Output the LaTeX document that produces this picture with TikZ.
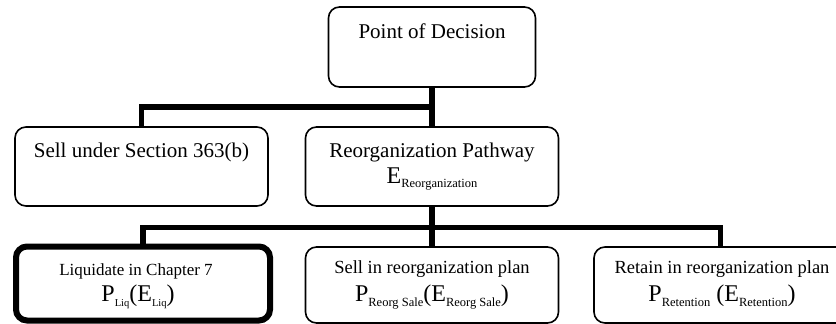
\documentclass[tikz,border=0pt]{standalone}
\usepackage{fontspec}
\setmainfont{Liberation Serif}
\newcommand\lsub[2][12.5]{\raisebox{-4.5pt}{\fontsize{#1}{#1}\selectfont #2}}
\begin{document}
\begin{tikzpicture}[x=1pt,y=-1pt,
  box/.style={draw, rounded corners=11pt, line width=1.6pt, inner sep=0pt, minimum width=253pt},
  thickbox/.style={box, line width=6pt},
  conn/.style={line width=5.5pt},
  txt/.style={inner sep=0pt, anchor=base, font=\fontsize{21}{21}\selectfont},
  lowtxt/.style={txt, font=\fontsize{18.5}{18.5}\selectfont},
  bigtxt/.style={txt, font=\fontsize{24}{24}\selectfont}]
\clip (0,0) rectangle (836,324);
% boxes
\node[box, minimum width=207pt, minimum height=80pt] (top) at (432,47) {};
\node[box, minimum height=79pt] (sell) at (141.5,166.5) {};
\node[box, minimum height=79pt] (reorg) at (432,166.5) {};
\node[thickbox, minimum width=254pt, minimum height=74pt] (liq) at (143,283.5) {};
\node[box, minimum height=76pt] (rsale) at (432,285) {};
\node[box, minimum height=76pt] (retain) at (720.5,285) {};
% connectors
\coordinate (j1) at (432,107);
\coordinate (j2) at (432,227.5);
\draw[conn] (top.south) -- (reorg.north);
\draw[conn] (sell.north) |- (j1);
\draw[conn] (reorg.south) -- (rsale.north);
\draw[conn] (liq.north) |- (j2);
\draw[conn] (retain.north) |- (j2);
% texts
\node[txt] (topT) at (432,38) {Point of Decision};
\node[txt] (sellT) at (141.5,157) {Sell under Section 363(b)};
\node[txt] (reorgT) at (432,157) {Reorganization Pathway};
\node[bigtxt] (reorgE) at (432,183) {E\lsub{Reorganization}};
\node[txt, font=\fontsize{17}{17}\selectfont] (liqT) at (136,275) {Liquidate in Chapter 7};
\node[bigtxt] (liqP) at (138,301.5) {P\lsub[10.5]{Liq}(E\lsub[10.5]{Liq})};
\node[lowtxt] (rsaleT) at (432,273) {Sell in reorganization plan};
\node[bigtxt] (rsaleP) at (432,301.5) {P\lsub{Reorg Sale}(E\lsub{Reorg Sale})};
\node[lowtxt] (retainT) at (722,273) {Retain in reorganization plan};
\node[bigtxt] (retainP) at (722,301.5) {P\lsub{Retention} (E\lsub{Retention})};
\end{tikzpicture}
\end{document}
